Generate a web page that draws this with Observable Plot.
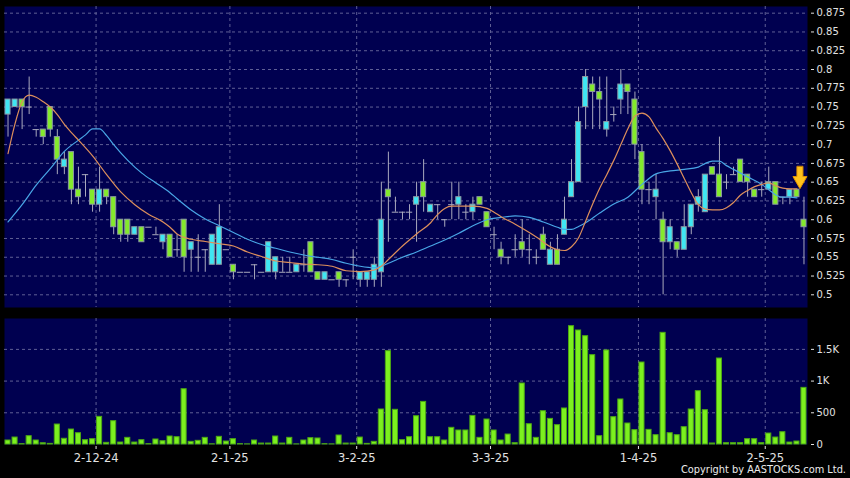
<!DOCTYPE html>
<html><head><meta charset="utf-8">
<script src="https://cdn.jsdelivr.net/npm/d3@7"></script>
<script src="https://cdn.jsdelivr.net/npm/@observablehq/plot@0.6"></script>
<style>
html,body{margin:0;padding:0;background:#000;}
#wrap{position:relative;width:850px;height:478px;background:#000;overflow:hidden;font-family:"DejaVu Sans",sans-serif;}
#price{position:absolute;left:0;top:0;}
#vol{position:absolute;left:0;top:313px;}
#copy{position:absolute;right:4px;top:464px;color:#ececec;font-size:9.8px;white-space:nowrap;}
</style></head>
<body><div id="wrap"><div id="price"></div><div id="vol"></div><div id="copy">Copyright by AASTOCKS.com Ltd.</div></div>
<script>
// ---- data ----
const opens = [.74,.75,.76,.75,.72,.72,.75,.71,.67,.69,.64,.66,.64,.62,.64,.63,.60,.60,.58,.59,
.59,.58,.57,.58,.56,.60,.56,.55,.56,.54,.54,.56,.54,.53,.53,.54,.53,.53,.53,.53,
.53,.53,.54,.57,.53,.52,.52,.53,.52,.55,.52,.52,.52,.53,.64,.61,.61,.61,.62,.65,
.61,.62,.60,.62,.62,.61,.61,.63,.61,.58,.56,.55,.56,.57,.56,.55,.58,.54,.56,.58,
.63,.65,.75,.78,.77,.72,.74,.76,.78,.76,.69,.64,.63,.60,.57,.57,.56,.59,.62,.61,
.67,.66,.65,.66,.68,.66,.64,.64,.64,.65,.63,.63,.64,.60];
const highs = [.76,.76,.76,.79,.72,.72,.75,.72,.69,.69,.67,.66,.64,.67,.64,.63,.60,.60,.59,.59,
.59,.59,.58,.58,.58,.60,.57,.58,.56,.58,.62,.56,.54,.53,.53,.54,.53,.57,.55,.55,
.55,.54,.56,.57,.53,.53,.52,.53,.52,.56,.53,.53,.55,.65,.69,.63,.61,.62,.65,.68,
.62,.62,.60,.65,.65,.62,.63,.63,.61,.59,.57,.55,.58,.60,.58,.56,.59,.57,.58,.63,
.68,.75,.80,.79,.79,.79,.75,.80,.78,.77,.70,.65,.66,.61,.60,.57,.62,.62,.64,.66,
.67,.71,.66,.67,.68,.66,.64,.65,.67,.65,.63,.64,.64,.63];
const lows = [.71,.75,.72,.74,.71,.70,.71,.66,.66,.62,.62,.63,.61,.61,.62,.58,.57,.57,.58,.57,
.59,.58,.56,.55,.55,.53,.53,.53,.53,.54,.54,.56,.52,.53,.53,.52,.53,.53,.52,.53,
.53,.53,.53,.53,.52,.52,.52,.51,.51,.52,.51,.51,.51,.51,.57,.61,.60,.60,.57,.61,
.61,.60,.59,.60,.60,.60,.60,.62,.59,.56,.54,.54,.55,.55,.54,.54,.56,.54,.54,.58,
.63,.65,.72,.72,.72,.71,.73,.74,.74,.68,.62,.62,.60,.50,.56,.55,.56,.58,.61,.61,
.66,.63,.64,.66,.65,.63,.63,.63,.64,.62,.62,.62,.63,.54];
const closes = [.76,.76,.75,.75,.72,.71,.72,.68,.68,.64,.63,.66,.62,.64,.63,.59,.58,.58,.59,.57,
.59,.58,.58,.55,.56,.55,.57,.55,.56,.58,.59,.56,.53,.53,.53,.54,.53,.57,.55,.53,
.53,.54,.54,.53,.52,.53,.52,.52,.52,.55,.53,.53,.54,.60,.63,.61,.61,.61,.63,.63,
.62,.62,.60,.62,.63,.61,.62,.62,.59,.58,.55,.55,.56,.56,.56,.55,.56,.56,.54,.60,
.65,.73,.79,.77,.76,.73,.74,.78,.77,.70,.64,.64,.64,.57,.59,.56,.59,.62,.63,.66,
.66,.63,.65,.66,.65,.65,.63,.64,.65,.62,.63,.64,.63,.59];
const volumes = [63,110,5,131,63,20,10,315,90,236,178,68,84,436,26,368,31,105,31,68,
5,79,52,126,115,872,42,58,105,3,121,47,84,5,2,63,15,15,126,15,
105,2,63,100,95,5,2,142,15,15,110,10,42,552,1472,547,68,115,446,672,
115,115,63,263,221,221,451,105,394,221,63,157,21,962,320,105,525,404,305,568,
1866,1798,1708,1409,131,1483,431,710,331,226,1293,231,147,1761,178,147,273,552,841,541,
16,1356,21,21,21,84,84,21,173,110,194,31,47,893];
// moving averages (sampled along the drawn curves)
const maShortIdx = [0,1,2,3,4,5,6,7,8,9,10,12,14,16,18,20,22,23,24,26,28,30,32,34,36,38,40,42,44,46,48,50,52,53,54,56,58,60,61,62,63,66,68,69,70,72,74,75,77,78,79,80,81,82,83,84,85,86,87,88,89,90,91,92,93,94,95,96,97,98,99,100,101,102,103,104,105,106,107,108,109,110,111,112];
const maShortVal = [.688,.728,.757,.766,.763,.757,.750,.740,.727,.716,.706,.685,.660,.637,.620,.607,.597,.590,.581,.574,.571,.568,.565,.557,.551,.545,.543,.541,.540,.538,.532,.531,.533,.538,.547,.565,.581,.596,.607,.615,.618,.618,.615,.610,.604,.594,.583,.577,.564,.560,.559,.564,.576,.598,.621,.642,.660,.679,.700,.721,.738,.742,.737,.722,.708,.692,.674,.655,.636,.620,.614,.613,.613,.616,.623,.633,.639,.644,.647,.649,.645,.642,.641,.641];
const maLongIdx = [0,2,4,6,8,10,11,12,13,14,15,17,19,21,23,24,26,28,30,32,34,36,38,40,42,44,46,48,50,52,53,54,56,58,60,62,64,66,68,70,72,74,76,78,79,80,81,82,84,86,88,90,92,94,96,98,99,100,101,102,103,105,107,108,109,110,111,112];
const maLongVal = [.597,.620,.646,.668,.691,.706,.713,.721,.721,.712,.700,.679,.662,.649,.636,.628,.613,.601,.592,.583,.574,.567,.562,.557,.553,.550,.547,.542,.538,.536,.538,.542,.550,.557,.565,.573,.582,.592,.600,.603,.605,.603,.597,.590,.587,.587,.591,.596,.609,.621,.630,.647,.661,.665,.667,.670,.675,.678,.678,.672,.667,.657,.647,.640,.633,.630,.630,.629];
const dateLabels = ["2-12-24","2-1-25","3-2-25","3-3-25","1-4-25","2-5-25"];
const dateIdx = [13,32,50,69,90,108];
const priceTicks = [0.5,0.525,0.55,0.575,0.6,0.625,0.65,0.675,0.7,0.725,0.75,0.775,0.8,0.825,0.85,0.875];
const volTicks = [0,500,1000,1500];
const arrowIdx = 112;

// ---- styling ----
const NAVY = "#000050", GRID = "#5f5f95", WICK = "#a9a9bd", BODY_EDGE = "#8b98a2";
const UP = "#3fe6f3", DOWN = "#84ea2c", VOL = "#7cf01f", VOL_EDGE = "#4da814";
const ORANGE = "#dd8f5c", BLUE = "#49a6e6", LABEL = "#e2e2e2";
const HALF = 0.36;

const candles = opens.map((o, i) => ({i, o, h: highs[i], l: lows[i], c: closes[i], v: volumes[i]}));
const ups = candles.filter(d => d.c > d.o);
const downs = candles.filter(d => d.c < d.o);
const dojis = candles.filter(d => d.c === d.o);
const maShort = maShortIdx.map((i, k) => ({i, v: maShortVal[k]}));
const maLong = maLongIdx.map((i, k) => ({i, v: maLongVal[k]}));
const gridX = dateIdx.map(i => i - 0.5);

const xScale = {type: "linear", domain: [-0.5, 113.5], axis: null};
const baseStyle = {background: "transparent", color: LABEL, fontFamily: "DejaVu Sans, sans-serif", fontSize: "10px", overflow: "visible"};

const arrowShape = {
  draw(context, l) {
    const shaft = 3, head = 7, hl = l * 0.45;
    context.moveTo(-shaft, 0);
    context.lineTo(-shaft, -hl);
    context.lineTo(-head, -hl);
    context.lineTo(0, -l);
    context.lineTo(head, -hl);
    context.lineTo(shaft, -hl);
    context.lineTo(shaft, 0);
    context.closePath();
  }
};

const price = Plot.plot({
  width: 850, height: 313,
  marginLeft: 4, marginRight: 43, marginTop: 6, marginBottom: 6,
  style: baseStyle,
  x: xScale,
  y: {domain: [0.4831, 0.8839]},
  marks: [
    Plot.frame({fill: NAVY, stroke: "none"}),
    Plot.ruleY(priceTicks, {stroke: GRID, strokeDasharray: "3,3"}),
    Plot.ruleX(gridX, {stroke: GRID, strokeDasharray: "3,3"}),
    Plot.ruleX(candles, {x: "i", y1: "l", y2: "h", stroke: WICK}),
    Plot.ruleY(dojis, {y: "c", x1: d => d.i - 0.45, x2: d => d.i + 0.45, stroke: WICK}),
    Plot.rect(ups, {x1: d => d.i - HALF, x2: d => d.i + HALF, y1: "o", y2: "c", fill: UP, stroke: BODY_EDGE}),
    Plot.rect(downs, {x1: d => d.i - HALF, x2: d => d.i + HALF, y1: "o", y2: "c", fill: DOWN, stroke: BODY_EDGE}),
    Plot.line(maLong, {x: "i", y: "v", stroke: BLUE, strokeWidth: 1.2, curve: "monotone-x"}),
    Plot.line(maShort, {x: "i", y: "v", stroke: ORANGE, strokeWidth: 1.2, curve: "monotone-x"}),
    Plot.vector([candles[arrowIdx]], {x: "i", y: "h", length: 22, rotate: 180, anchor: "end", shape: arrowShape,
      fill: "#ffc21c", stroke: "#e39400", strokeWidth: 1, dx: 3, dy: -1}),
    Plot.axisY(priceTicks, {anchor: "right", tickSize: 3, tickPadding: 3, dx: 3, fontSize: 10,
      tickFormat: d => String(+d.toFixed(3)), color: LABEL, label: null})
  ]
});
document.getElementById("price").appendChild(price);

const vol = Plot.plot({
  width: 850, height: 165,
  marginLeft: 4, marginRight: 43, marginTop: 5, marginBottom: 34,
  style: baseStyle,
  x: xScale,
  y: {domain: [0, 1987]},
  marks: [
    Plot.frame({fill: NAVY, stroke: "none"}),
    Plot.ruleY(volTicks.filter(d => d > 0), {stroke: GRID, strokeDasharray: "3,3"}),
    Plot.ruleX(gridX, {stroke: GRID, strokeDasharray: "3,3"}),
    Plot.rect(candles, {x1: d => d.i - HALF, x2: d => d.i + HALF, y1: 0, y2: "v", fill: VOL, stroke: VOL_EDGE}),
    Plot.axisY(volTicks, {anchor: "right", tickSize: 3, tickPadding: 3, dx: 3, fontSize: 10, color: LABEL, label: null,
      tickFormat: d => d === 0 ? "0" : d >= 1000 ? (d / 1000) + "K" : String(d)}),
    Plot.axisX(gridX, {anchor: "bottom", tickSize: 3, tickPadding: 4, dy: 2, fontSize: 11.5, color: LABEL, label: null,
      tickFormat: d => dateLabels[gridX.indexOf(d)]})
  ]
});
document.getElementById("vol").appendChild(vol);
</script>
</body></html>
